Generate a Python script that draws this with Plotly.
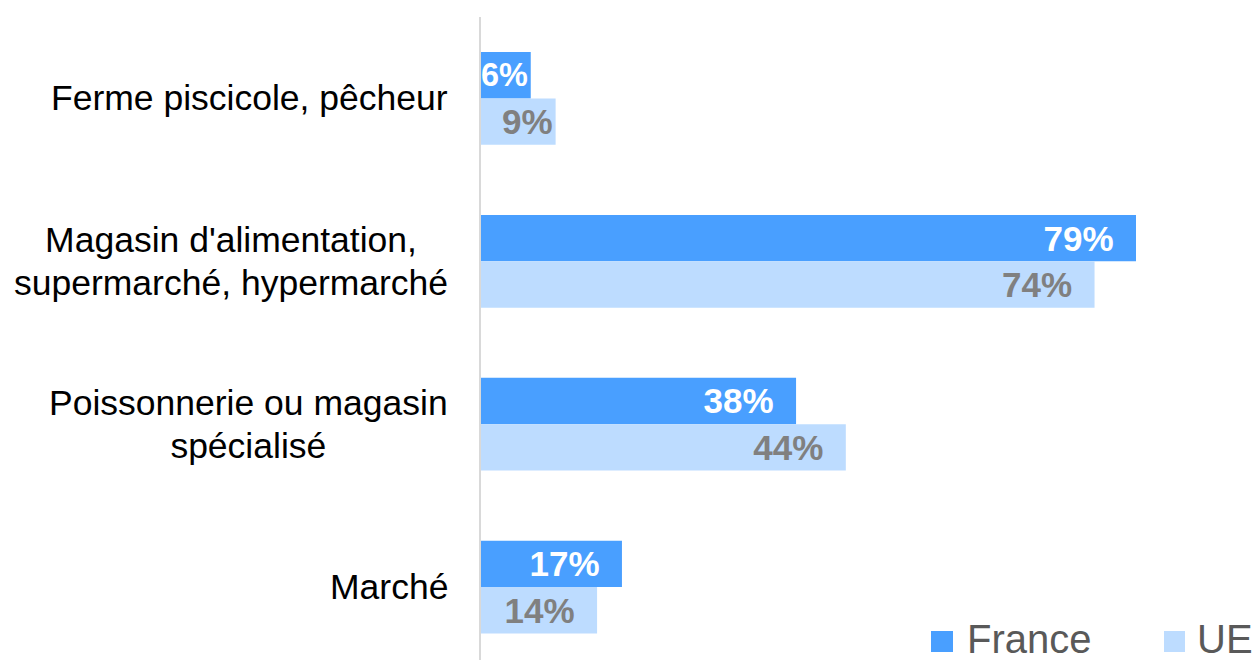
import plotly.graph_objects as go

categories = ["Ferme piscicole, pêcheur",
              "Magasin d'alimentation,<br>supermarché, hypermarché",
              "Poissonnerie ou magasin<br>spécialisé",
              "Marché"]
france = [6, 79, 38, 17]
ue = [9, 74, 44, 14]
series_names = ["France", "UE"]

C_FR = "#499FFF"
C_UE = "#BDDCFF"
FONT = "Liberation Sans, Arial, sans-serif"

W, H = 1254, 660
PLOT_L = 481
PLOT_T = 16.5
PLOT_W = W - PLOT_L
PLOT_H = H - PLOT_T
PX_PER_PCT = 655 / 79
XMAX = PLOT_W / PX_PER_PCT
CAT_PX = 163
YMAX = -0.5 + PLOT_H / CAT_PX
LBL = 35


def labels(vals):
    texts, sizes = [], []
    for v in vals:
        bar_px = v * PX_PER_PCT
        txt = f"{v}%"
        txt_px = (len(txt) - 1) * 0.556 * LBL + 0.889 * LBL
        if bar_px > txt_px + 40:
            texts.append(txt + "\u00a0\u00a0")
            sizes.append(LBL)
        elif bar_px > txt_px + 6:
            texts.append(txt)
            sizes.append(LBL)
        else:
            texts.append(txt)
            sizes.append(round((bar_px - 3) / txt_px * LBL, 1))
    return texts, sizes


def px_x(sx):  # pixel x -> paper x
    return (sx - PLOT_L) / PLOT_W


def px_y(sy):  # pixel y -> paper y
    return (H - sy) / PLOT_H


fr_txt, fr_sz = labels(france)
ue_txt, ue_sz = labels(ue)

fig = go.Figure()
fig.add_trace(go.Bar(y=categories, x=france, orientation="h", name=series_names[0],
                     marker=dict(color=C_FR, line=dict(width=0)),
                     text=fr_txt, textposition="inside", insidetextanchor="end",
                     constraintext="none", cliponaxis=False,
                     textfont=dict(family=FONT, size=fr_sz, color="white", weight="bold"),
                     showlegend=False, hoverinfo="skip"))
fig.add_trace(go.Bar(y=categories, x=ue, orientation="h", name=series_names[1],
                     marker=dict(color=C_UE, line=dict(width=0)),
                     text=ue_txt, textposition="inside", insidetextanchor="end",
                     constraintext="none", cliponaxis=False,
                     textfont=dict(family=FONT, size=ue_sz, color="#808080", weight="bold"),
                     showlegend=False, hoverinfo="skip"))

annotations = []
for c in categories:
    annotations.append(dict(x=0, xref="paper", y=c, yref="y", xanchor="right", yanchor="middle",
                            xshift=-31, showarrow=False, align="center",
                            text='<span style="font-size:35.5px">' + c.replace("<br>", '</span><br><span style="font-size:35.5px">') + "</span>",
                            font=dict(family=FONT, size=33.1, color="black")))

# legend
shapes = []
leg = [(series_names[0], C_FR, 931, 953, 965), (series_names[1], C_UE, 1164, 1185, 1195)]
for name, col, sx0, sx1, tx in leg:
    shapes.append(dict(type="rect", xref="paper", yref="paper",
                       x0=px_x(sx0), x1=px_x(sx1), y0=px_y(652), y1=px_y(631),
                       fillcolor=col, line=dict(width=0)))
    annotations.append(dict(x=px_x(tx), xref="paper", y=px_y(639), yref="paper",
                            xanchor="left", yanchor="middle", text=name, showarrow=False,
                            font=dict(family=FONT, size=40, color="#595959")))

fig.update_layout(
    width=W, height=H,
    margin=dict(l=PLOT_L, r=0, t=PLOT_T, b=0),
    paper_bgcolor="white", plot_bgcolor="white",
    barmode="group", bargap=0.43, bargroupgap=0,
    xaxis=dict(range=[0, XMAX], visible=False),
    yaxis=dict(type="category", categoryorder="array", categoryarray=categories,
               range=[YMAX, -0.5], showticklabels=False, showgrid=False,
               showline=True, linecolor="#d9d9d9", linewidth=2, zeroline=False, ticks="",
               layer="below traces"),
    annotations=annotations, shapes=shapes,
    showlegend=False,
)

fig.write_html("out.html", config={"displayModeBar": False},
               post_script="document.body.style.margin='0';document.body.style.overflow='hidden';")
